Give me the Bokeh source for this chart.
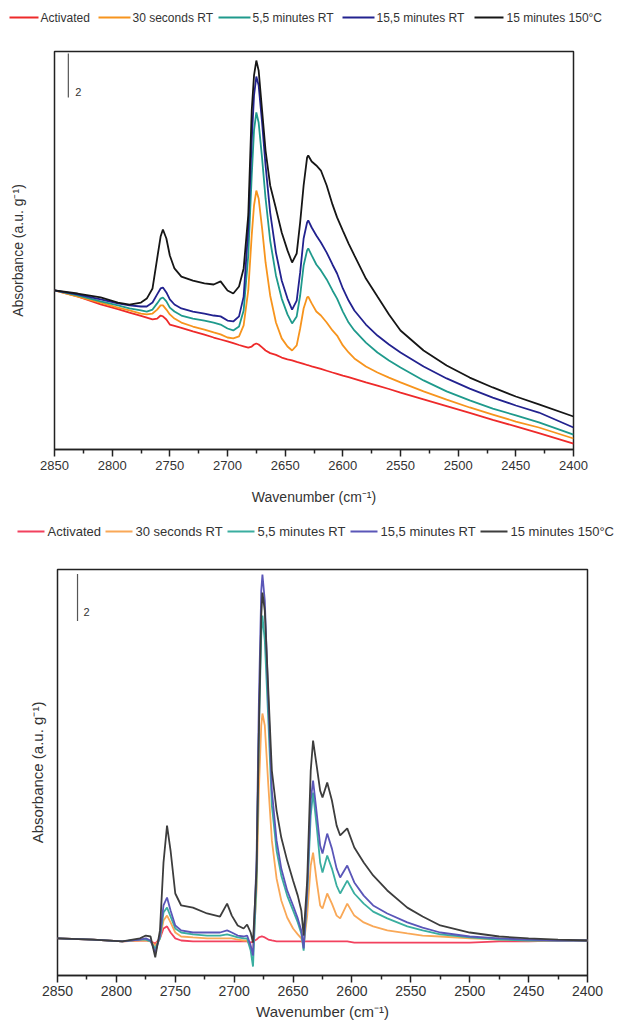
from bokeh.plotting import figure
from bokeh.layouts import column
from bokeh.models import Range1d, FixedTicker
from bokeh.embed import file_html
from bokeh.resources import INLINE
from bokeh.core.properties import value

FONT = "Liberation Sans"
TEXT = "#333333"

SERIES = ["Activated", "30 seconds RT", "5,5 minutes RT", "15,5 minutes RT", "15 minutes 150°C"]

X_TICKS = [2850, 2800, 2750, 2700, 2650, 2600, 2550, 2500, 2450, 2400]
X_MINOR = [2825, 2775, 2725, 2675, 2625, 2575, 2525, 2475, 2425]

# ---------------- upper panel: raw spectra ----------------
wn_top = [2850, 2830, 2810, 2795, 2785, 2775, 2770, 2765, 2761, 2758,
          2756, 2753, 2750, 2746, 2740, 2730, 2720, 2712, 2706, 2700,
          2695, 2690, 2686, 2682, 2679, 2677, 2675, 2673, 2670, 2667,
          2663, 2658, 2653, 2648, 2644, 2640, 2637, 2634, 2631, 2630,
          2627, 2623, 2619, 2614, 2609, 2605, 2600, 2595, 2590, 2580,
          2570, 2560, 2550, 2530, 2510, 2490, 2470, 2450, 2430, 2400]

top_activated = [7.23, 6.96, 6.60, 6.38, 6.22, 6.07, 5.99, 5.91, 5.95, 6.09,
                 6.05, 5.91, 5.68, 5.62, 5.53, 5.37, 5.22, 5.09, 5.00, 4.91,
                 4.83, 4.75, 4.69, 4.63, 4.68, 4.77, 4.82, 4.77, 4.64, 4.50,
                 4.38, 4.30, 4.18, 4.10, 4.05, 3.98, 3.94, 3.89, 3.84, 3.83,
                 3.78, 3.72, 3.66, 3.58, 3.50, 3.44, 3.36, 3.29, 3.21, 3.05,
                 2.90, 2.75, 2.59, 2.28, 1.97, 1.66, 1.35, 1.05, 0.74, 0.27]

top_30s = [7.23, 6.95, 6.68, 6.45, 6.32, 6.18, 6.14, 6.18, 6.36, 6.55,
           6.55, 6.36, 6.14, 5.95, 5.77, 5.59, 5.45, 5.32, 5.23, 5.09,
           5.05, 5.14, 5.64, 7.23, 9.73, 11.09, 11.77, 11.41, 10.05, 8.50,
           7.00, 5.77, 5.05, 4.68, 4.50, 4.73, 5.50, 6.41, 6.91, 6.95,
           6.64, 6.27, 6.09, 5.77, 5.41, 5.18, 4.73, 4.41, 4.14, 3.77,
           3.50, 3.27, 3.05, 2.64, 2.27, 1.91, 1.59, 1.27, 1.00, 0.50]

top_5m = [7.23, 7.00, 6.73, 6.55, 6.41, 6.32, 6.27, 6.36, 6.64, 6.86,
          6.91, 6.73, 6.45, 6.27, 6.09, 5.95, 5.86, 5.77, 5.68, 5.50,
          5.41, 5.59, 6.32, 8.82, 12.45, 14.50, 15.32, 14.86, 13.23, 11.41,
          9.50, 7.91, 6.86, 6.14, 5.73, 6.05, 7.00, 8.36, 9.05, 9.14,
          8.82, 8.41, 8.14, 7.73, 7.23, 6.86, 6.27, 5.77, 5.41, 4.86,
          4.41, 4.05, 3.73, 3.14, 2.64, 2.23, 1.86, 1.55, 1.23, 0.68]

top_15m = [7.23, 7.05, 6.82, 6.64, 6.55, 6.50, 6.50, 6.68, 7.05, 7.32,
           7.36, 7.14, 6.82, 6.59, 6.41, 6.27, 6.18, 6.09, 6.05, 5.86,
           5.82, 6.05, 6.95, 10.05, 14.05, 16.09, 16.95, 16.55, 14.86, 12.91,
           10.77, 8.95, 7.68, 6.86, 6.36, 6.77, 8.05, 9.59, 10.32, 10.41,
           10.09, 9.73, 9.41, 8.95, 8.41, 8.00, 7.32, 6.77, 6.32, 5.68,
           5.18, 4.77, 4.41, 3.77, 3.23, 2.77, 2.36, 2.00, 1.68, 1.00]

top_150c = [7.23, 7.09, 6.91, 6.68, 6.59, 6.68, 6.86, 7.32, 8.68, 9.68,
            10.00, 9.59, 8.82, 8.23, 7.86, 7.68, 7.55, 7.50, 7.64, 7.23,
            7.09, 7.41, 8.23, 10.64, 15.41, 17.00, 17.68, 17.23, 15.41, 13.59,
            12.00, 10.95, 9.86, 9.05, 8.50, 8.91, 10.32, 12.00, 13.27, 13.36,
            13.09, 12.91, 12.68, 12.00, 11.14, 10.55, 9.95, 9.36, 8.82, 7.77,
            6.95, 6.14, 5.41, 4.50, 3.82, 3.27, 2.82, 2.41, 2.05, 1.50]

# ---------------- lower panel: difference spectra ----------------
wn_bot = [2850, 2820, 2795, 2780, 2775, 2771, 2767, 2763, 2760, 2757,
          2754, 2750, 2745, 2735, 2723, 2712, 2706, 2702, 2697, 2692,
          2689, 2686, 2684, 2681, 2679, 2677, 2676, 2674, 2671, 2668,
          2664, 2660, 2655, 2650, 2646, 2643, 2641, 2638, 2635, 2633,
          2630, 2627, 2625, 2621, 2617, 2613, 2610, 2604, 2598, 2590,
          2582, 2570, 2553, 2540, 2525, 2500, 2475, 2450, 2425, 2400]

bot_activated = [0.09, 0.04, -0.04, 0.00, 0.00, -0.04, -0.13, 0.09, 0.51, 0.60,
                 0.34, 0.09, 0.00, -0.04, -0.04, -0.04, -0.04, -0.04, -0.04, -0.04,
                 -0.04, -0.09, -0.04, 0.04, 0.13, 0.17, 0.17, 0.13, 0.04, 0.00,
                 -0.04, -0.04, -0.04, -0.04, -0.04, -0.04, -0.04, -0.04, -0.04, -0.04,
                 -0.04, -0.04, -0.04, -0.04, -0.04, -0.04, -0.04, -0.04, -0.09, -0.09,
                 -0.09, -0.09, -0.09, -0.09, -0.09, -0.09, -0.04, -0.04, 0.00, 0.00]

bot_30s = [0.09, 0.04, -0.04, 0.00, 0.00, -0.04, -0.21, 0.09, 0.85, 1.06,
           0.77, 0.34, 0.17, 0.13, 0.09, 0.09, 0.09, 0.09, 0.04, 0.00,
           0.00, -0.26, -0.51, 2.13, 6.38, 9.15, 9.66, 9.15, 6.60, 4.26,
           2.64, 1.70, 0.98, 0.51, 0.26, 0.09, -0.21, 1.06, 3.19, 3.74,
           2.55, 1.49, 1.36, 2.00, 1.57, 1.06, 0.94, 1.57, 1.06, 0.77,
           0.60, 0.43, 0.30, 0.21, 0.17, 0.09, 0.04, 0.00, 0.00, 0.00]

bot_5m = [0.09, 0.04, -0.04, 0.04, 0.04, -0.04, -0.34, 0.09, 1.19, 1.40,
          1.02, 0.51, 0.34, 0.26, 0.21, 0.21, 0.26, 0.21, 0.13, 0.09,
          0.09, -0.43, -1.11, 2.55, 8.94, 12.98, 13.83, 12.77, 9.36, 5.74,
          3.83, 2.77, 1.91, 1.28, 0.77, 0.30, -0.43, 1.91, 5.32, 6.30,
          4.89, 3.32, 2.89, 3.62, 3.06, 2.34, 2.00, 2.55, 2.00, 1.57,
          1.23, 0.94, 0.60, 0.43, 0.26, 0.13, 0.04, 0.00, 0.00, 0.00]

bot_15m = [0.09, 0.04, -0.04, 0.04, 0.09, 0.00, -0.51, 0.21, 1.49, 1.83,
           1.28, 0.64, 0.43, 0.34, 0.34, 0.34, 0.43, 0.34, 0.21, 0.17,
           0.21, -0.21, -0.64, 3.40, 10.21, 14.89, 15.57, 14.47, 10.21, 6.38,
           4.26, 3.06, 2.13, 1.49, 0.94, 0.43, -0.34, 2.13, 5.96, 6.81,
           5.45, 4.04, 3.70, 4.55, 3.91, 3.06, 2.68, 3.19, 2.47, 1.91,
           1.49, 1.15, 0.77, 0.55, 0.34, 0.17, 0.09, 0.04, 0.00, 0.00]

bot_150c = [0.09, 0.04, -0.04, 0.09, 0.21, 0.17, -0.72, 0.43, 3.32, 4.89,
            3.83, 2.00, 1.49, 1.40, 1.15, 1.02, 1.57, 1.06, 0.64, 0.51,
            0.68, 0.34, -0.09, 2.98, 8.94, 13.83, 14.81, 14.04, 10.64, 7.23,
            5.53, 4.38, 3.40, 2.55, 1.91, 1.28, 0.21, 2.55, 7.23, 8.51,
            7.45, 6.38, 6.09, 6.72, 5.96, 4.89, 4.47, 4.77, 3.96, 3.32,
            2.77, 2.13, 1.40, 1.02, 0.64, 0.34, 0.17, 0.09, 0.04, 0.00]

# vertical scale bars (2 absorbance units each)
bar_top_x = 2838
bar_top_y = [16.0, 18.0]
bar_bot_x = 2833
bar_bot_y = [13.6, 15.6]

COLORS_TOP = ["#ee2a2a", "#f7941d", "#1f9a8c", "#22228f", "#161616"]
COLORS_BOT = ["#f2415e", "#f9a857", "#3aaea0", "#5a56b8", "#3d3d3d"]


def no_frame_align(p):
    if "frame_align" in p.properties():
        p.frame_align = False


def legend_strip(height, colors, line_x, text_x, font_size):
    """Horizontal key drawn in pixel space above a panel."""
    f = figure(width=625, height=height, x_range=Range1d(0, 625),
               y_range=Range1d(0, height), x_axis_type=None, y_axis_type=None,
               output_backend="svg", toolbar_location=None,
               min_border=0, outline_line_color=None)
    no_frame_align(f)
    f.grid.visible = False
    mid = height / 2
    for (x0, x1), c in zip(line_x, colors):
        f.segment(x0=[x0], y0=[mid], x1=[x1], y1=[mid], line_color=c, line_width=2)
    f.text(x=text_x, y=[mid] * len(text_x), text=SERIES,
           text_font=value(FONT), text_font_size=font_size,
           text_align="left", text_baseline="middle", text_color=TEXT)
    return f


def panel(wn, curves, colors, y_lo, y_hi, height, borders, ylab_standoff,
          bar_x, bar_y, lab_xy, tick_size, label_size, tick_standoff, xlab_standoff):
    left, right, top, bottom = borders
    p = figure(width=625, height=height,
               x_range=Range1d(2850, 2400), y_range=Range1d(y_lo, y_hi),
               output_backend="svg", toolbar_location=None,
               min_border_left=left, min_border_right=right,
               min_border_top=top, min_border_bottom=bottom)
    no_frame_align(p)
    p.grid.visible = False
    p.background_fill_color = "white"
    p.border_fill_color = "white"
    p.outline_line_color = "#222222"
    p.outline_line_width = 1.5

    for ys, c in zip(curves, colors):
        p.line(wn, ys, line_color=c, line_width=1.8)

    p.segment(x0=[bar_x], y0=[bar_y[0]], x1=[bar_x], y1=[bar_y[1]],
              line_color="#555555", line_width=1.2)
    p.text(x=[lab_xy[0]], y=[lab_xy[1]], text=["2"],
           text_font=value(FONT), text_font_size="11px",
           text_align="left", text_baseline="middle", text_color=TEXT)

    ax = p.xaxis[0]
    ax.ticker = FixedTicker(ticks=X_TICKS, minor_ticks=X_MINOR)
    ax.major_tick_out = 7
    ax.major_tick_in = 0
    ax.minor_tick_out = 4
    ax.minor_tick_in = 0
    ax.axis_line_width = 1.5
    ax.major_tick_line_width = 1.5
    ax.minor_tick_line_width = 1.5
    ax.axis_line_color = "#222222"
    ax.major_tick_line_color = "#222222"
    ax.minor_tick_line_color = "#222222"
    ax.major_label_text_font = FONT
    ax.major_label_text_font_size = tick_size
    ax.major_label_text_color = TEXT
    ax.major_label_standoff = tick_standoff
    ax.axis_label = "Wavenumber (cm⁻¹)"
    ax.axis_label_text_font = FONT
    ax.axis_label_text_font_size = label_size
    ax.axis_label_text_font_style = "normal"
    ax.axis_label_text_color = TEXT
    ax.axis_label_standoff = xlab_standoff

    ay = p.yaxis[0]
    ay.ticker = FixedTicker(ticks=[])
    ay.major_tick_out = 0
    ay.major_tick_in = 0
    ay.minor_tick_out = 0
    ay.minor_tick_in = 0
    ay.axis_line_color = None
    ay.axis_label = "Absorbance (a.u. g⁻¹)"
    ay.axis_label_text_font = FONT
    ay.axis_label_text_font_size = label_size
    ay.axis_label_text_font_style = "normal"
    ay.axis_label_text_color = TEXT
    ay.axis_label_standoff = ylab_standoff
    return p


key_top = legend_strip(34, COLORS_TOP,
                       [(9, 38), (98, 130), (218, 250), (342, 374), (474, 503)],
                       [40, 132, 252, 376, 506], "12px")

p_top = panel(wn_top, [top_activated, top_30s, top_5m, top_15m, top_150c],
              COLORS_TOP, 0.0, 18.09, 481, (54, 52, 17, 66), 29,
              bar_top_x, bar_top_y, (2832, 16.27), "13px", "14px", 4, 16)

key_bot = legend_strip(32, COLORS_BOT,
                       [(17, 44), (105, 132), (227, 254), (350, 377), (480, 507)],
                       [47, 135, 257, 380, 510], "13px")

p_bot = panel(wn_bot, [bot_activated, bot_30s, bot_5m, bot_15m, bot_150c],
              COLORS_BOT, -1.49, 15.79, 482, (57, 38, 22, 54), 12,
              bar_bot_x, bar_bot_y, (2828, 13.96), "14px", "15px", 3, 4)

layout = column(key_top, p_top, key_bot, p_bot)
open("out.html", "w").write(file_html(layout, INLINE))
